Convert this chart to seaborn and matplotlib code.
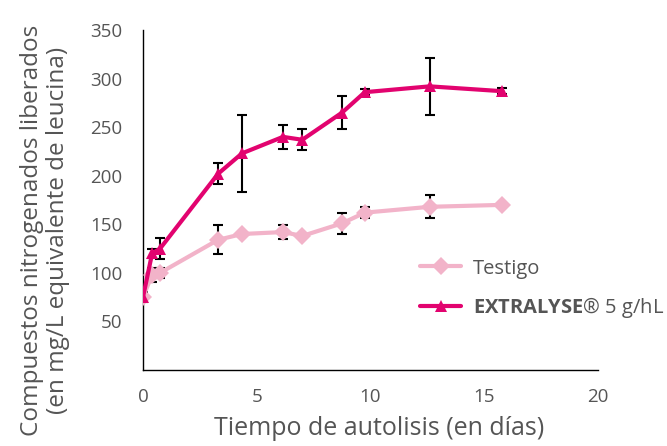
"""
plot.py

Compuestos nitrogenados liberados durante la autolisis.
"""

import pandas as pd
import matplotlib
matplotlib.use("Agg")
import matplotlib.pyplot as plt
import seaborn as sns

############################################################
# Data
############################################################

dias = [0, 0.4, 0.75, 3.3, 4.35, 6.15, 7.0, 8.75, 9.75, 12.6, 15.8]

testigo = [75, 98, 100, 134, 140, 142, 138, 151, 162, 168, 170]
testigo_err = [4, 7, 5, 15, 0, 7, 0, 11, 6, 12, 0]

extralyse = [75, 120, 125, 202, 223, 240, 237, 265, 286, 292, 287]
extralyse_err = [5, 5, 11, 11, 40, 12, 11, 17, 3, 29, 3]

series = ["Testigo", "EXTRALYSE"]
colores = {"Testigo": "#F2B3C9", "EXTRALYSE": "#E2036F"}
marcadores = {"Testigo": "D", "EXTRALYSE": "^"}

x_ticks = [0, 5, 10, 15, 20]
y_ticks = [0, 50, 100, 150, 200, 250, 300, 350]

############################################################

df = pd.concat([
    pd.DataFrame({"dias": dias, "valor": testigo, "err": testigo_err, "serie": "Testigo"}),
    pd.DataFrame({"dias": dias, "valor": extralyse, "err": extralyse_err, "serie": "EXTRALYSE"}),
])

sns.set_style("white")
plt.rcParams["font.family"] = ["Open Sans", "DejaVu Sans"]
plt.rcParams["mathtext.fontset"] = "custom"
plt.rcParams["mathtext.bf"] = "Open Sans:bold"
plt.rcParams["mathtext.rm"] = "Open Sans"

gris = "#555555"

fig = plt.figure(figsize=(6.67, 4.46), dpi=100)
ax = fig.add_axes([0.2144, 0.1704, 0.6822, 0.7623])

# error bars first, behind the lines
for s in series:
    sub = df[df["serie"] == s]
    ax.errorbar(
        sub["dias"], sub["valor"], yerr=sub["err"],
        fmt="none", ecolor="black", elinewidth=1.5,
        capsize=3.5, capthick=1.5, zorder=1,
    )

sns.lineplot(
    data=df, x="dias", y="valor",
    hue="serie", style="serie",
    hue_order=series, style_order=series,
    palette=colores, markers=marcadores, dashes=False,
    linewidth=3, markersize=9, markeredgewidth=0,
    ax=ax, zorder=3,
)

ax.set_xlim(0, 20)
ax.set_ylim(0, 350)
ax.set_xticks(x_ticks)
ax.set_yticks(y_ticks)
ax.set_yticklabels(["" if v == 0 else str(v) for v in y_ticks])

for side in ["top", "right"]:
    ax.spines[side].set_visible(False)
for side in ["left", "bottom"]:
    ax.spines[side].set_color("black")
    ax.spines[side].set_linewidth(1)

ax.tick_params(axis="both", direction="out", length=4, width=1, color="black",
               labelsize=13.5, labelcolor=gris)
ax.tick_params(axis="y", pad=11)
ax.tick_params(axis="x", pad=9)

ax.set_xlabel("Tiempo de autolisis (en días)", fontsize=18, color=gris)
ax.xaxis.set_label_coords(0.52, -0.135)
ax.set_ylabel("Compuestos nitrogenados liberados\n(en mg/L equivalente de leucina)",
              fontsize=17.5, color=gris, linespacing=1.15)
ax.yaxis.set_label_coords(-0.16, 0.41)

handles, labels = ax.get_legend_handles_labels()
ax.legend(
    handles,
    ["Testigo", r"$\mathbf{EXTRALYSE}$® 5 g/hL"],
    loc="center left", bbox_to_anchor=(0.57, 0.238),
    frameon=False, fontsize=14.5, labelcolor=gris,
    handlelength=2.0, labelspacing=0.8, handletextpad=0.6,
)

fig.savefig("out.png", dpi=100)
plt.close(fig)
